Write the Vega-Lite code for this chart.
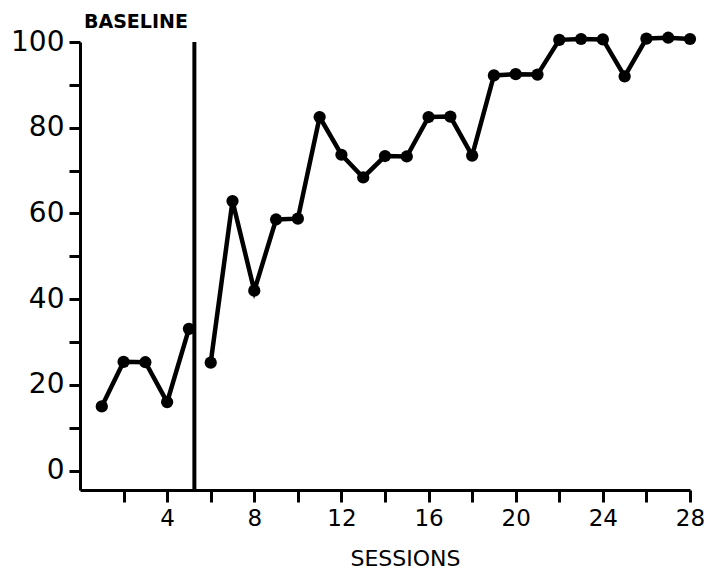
{
  "$schema": "https://vega.github.io/schema/vega-lite/v6.json",
  "width": 610,
  "height": 448,
  "autosize": "none",
  "padding": {"left": 80, "top": 42, "right": 14, "bottom": 97},
  "background": "white",
  "config": {"view": {"stroke": null}, "font": "DejaVu Sans"},
  "title": {"text": "BASELINE", "anchor": "start", "frame": "group", "dx": 4, "offset": -4, "fontSize": 19, "fontWeight": "bold", "color": "black", "font": "DejaVu Sans"},
  "data": {"values": [
    {"session": 1, "pct": 15, "phase": "Baseline"},
    {"session": 2, "pct": 25.4, "phase": "Baseline"},
    {"session": 3, "pct": 25.3, "phase": "Baseline"},
    {"session": 4, "pct": 16, "phase": "Baseline"},
    {"session": 5, "pct": 33.1, "phase": "Baseline"},
    {"session": 6, "pct": 25.2, "phase": "Treatment"},
    {"session": 7, "pct": 62.9, "phase": "Treatment"},
    {"session": 8, "pct": 42, "phase": "Treatment"},
    {"session": 9, "pct": 58.6, "phase": "Treatment"},
    {"session": 10, "pct": 58.8, "phase": "Treatment"},
    {"session": 11, "pct": 82.5, "phase": "Treatment"},
    {"session": 12, "pct": 73.7, "phase": "Treatment"},
    {"session": 13, "pct": 68.4, "phase": "Treatment"},
    {"session": 14, "pct": 73.4, "phase": "Treatment"},
    {"session": 15, "pct": 73.3, "phase": "Treatment"},
    {"session": 16, "pct": 82.5, "phase": "Treatment"},
    {"session": 17, "pct": 82.6, "phase": "Treatment"},
    {"session": 18, "pct": 73.5, "phase": "Treatment"},
    {"session": 19, "pct": 92.2, "phase": "Treatment"},
    {"session": 20, "pct": 92.5, "phase": "Treatment"},
    {"session": 21, "pct": 92.4, "phase": "Treatment"},
    {"session": 22, "pct": 100.5, "phase": "Treatment"},
    {"session": 23, "pct": 100.7, "phase": "Treatment"},
    {"session": 24, "pct": 100.6, "phase": "Treatment"},
    {"session": 25, "pct": 92, "phase": "Treatment"},
    {"session": 26, "pct": 100.8, "phase": "Treatment"},
    {"session": 27, "pct": 101, "phase": "Treatment"},
    {"session": 28, "pct": 100.7, "phase": "Treatment"}
  ]},
  "layer": [
    {
      "mark": {"type": "line", "color": "black", "strokeWidth": 4.5},
      "encoding": {
        "x": {
          "field": "session", "type": "quantitative",
          "scale": {"domain": [0, 28], "nice": false, "zero": false},
          "axis": {
            "values": [2, 4, 6, 8, 10, 12, 14, 16, 18, 20, 22, 24, 26, 28],
            "labelExpr": "datum.value % 4 == 0 ? datum.label : ''",
            "grid": false, "domainColor": "black", "domainWidth": 3, "tickColor": "black", "tickWidth": 3, "tickSize": 12,
            "labelFontSize": 23, "labelColor": "black", "labelPadding": 5, "labelFlush": false,
            "title": "SESSIONS", "titleFontSize": 22, "titleFontWeight": "normal", "titleColor": "black", "titlePadding": 18, "titleX": 325, "titleAlign": "center"
          }
        },
        "y": {
          "field": "pct", "type": "quantitative",
          "scale": {"domain": [-4.5, 100], "nice": false, "zero": false},
          "axis": {
            "values": [0, 10, 20, 30, 40, 50, 60, 70, 80, 90, 100],
            "labelExpr": "datum.value % 20 == 0 ? datum.label : ''",
            "grid": false, "domainColor": "black", "domainWidth": 3, "tickColor": "black", "tickWidth": 3, "tickSize": 11,
            "labelFontSize": 28, "labelColor": "black", "labelPadding": 5, "labelFlush": false, "title": null
          }
        },
        "detail": {"field": "phase"}
      }
    },
    {
      "mark": {"type": "point", "filled": true, "color": "black", "size": 150, "opacity": 1},
      "encoding": {
        "x": {"field": "session", "type": "quantitative"},
        "y": {"field": "pct", "type": "quantitative"}
      }
    },
    {
      "data": {"values": [{"phase_change": 5.25}]},
      "mark": {"type": "rule", "color": "black", "strokeWidth": 4},
      "encoding": {
        "x": {"field": "phase_change", "type": "quantitative"}
      }
    }
  ]
}
